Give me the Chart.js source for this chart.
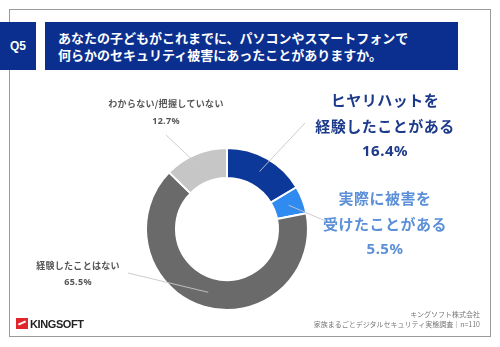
<!DOCTYPE html>
<html lang="ja">
<head>
<meta charset="utf-8">
<script src="https://cdn.jsdelivr.net/npm/chart.js@4"></script>
<style>
    html, body { margin: 0; padding: 0; background: #fff; }
    body { width: 500px; height: 347px; position: relative; overflow: hidden; font-family: "Noto Sans CJK JP", "Noto Sans", sans-serif; }
    .card { position: absolute; left: 9px; top: 9px; width: 482px; height: 328px; border: 1px solid #9a9a9a; box-sizing: border-box; }
    #chart { position: absolute; left: 0; top: 0; }
    .q { position: absolute; left: 0; top: 22px; width: 36px; height: 48px; background: #0b2f8e; color: #fff; font: bold 12px "Liberation Sans", sans-serif; line-height: 48px; text-align: center; }
    .title { position: absolute; left: 45px; top: 22px; width: 413px; height: 48px; background: #0b2f8e; color: #fff; font-weight: bold; font-size: 13px; line-height: 17px; padding: 7px 0 0 13px; box-sizing: border-box; }
    .logo { position: absolute; left: 16px; top: 317px; height: 13px; display: flex; align-items: center; }
    .logo .mark { width: 12px; height: 11px; background: #e0262b; margin-right: 2px; position: relative; }
    .logo .mark::after { content: ''; position: absolute; left: 2px; top: 4px; width: 8px; height: 2px; background: #fff; transform: rotate(-25deg); }
    .logo span { font: bold 11px "Liberation Sans", sans-serif; color: #222; letter-spacing: -0.4px; }
    .footer { position: absolute; right: 20px; top: 309px; text-align: right; font-size: 7px; line-height: 10px; color: #777; }
</style>
</head>
<body>
<div class="card"></div>
<canvas id="chart" width="500" height="347"></canvas>
<div class="q">Q5</div>
<div class="title">あなたの子どもがこれまでに、パソコンやスマートフォンで<br>何らかのセキュリティ被害にあったことがありますか。</div>
<div class="logo"><div class="mark"></div><span>KINGSOFT</span></div>
<div class="footer">キングソフト株式会社<br>家族まるごとデジタルセキュリティ実態調査｜n=110</div>
<script>
const categories = ['ヒヤリハットを\n経験したことがある', '実際に被害を\n受けたことがある', '経験したことはない', 'わからない/把握していない'];
const values = [16.4, 5.5, 65.5, 12.7];
const colors = ['#0c389a', '#2f8bef', '#6a6a6a', '#c6c6c6'];

// label placement (layout only)
const labelStyles = [
    { x: 385, y: 100, gap: 26, size: 15, color: '#1c3a8a', lineTo: [305, 123] },
    { x: 385, y: 198, gap: 26, size: 15, color: '#5b8fd8', lineTo: [335, 225] },
    { x: 78, y: 266, gap: 16, size: 9, color: '#555', lineTo: [128, 273] },
    { x: 166, y: 104, gap: 17, size: 9, color: '#555', lineTo: [166, 135] }
];

const leaderLabels = {
    id: 'leaderLabels',
    afterDraw(chart) {
        const ctx = chart.ctx;
        const arcs = chart.getDatasetMeta(0).data;
        ctx.save();
        arcs.forEach((arc, i) => {
            const p = arc.getProps(['x', 'y', 'startAngle', 'endAngle', 'innerRadius', 'outerRadius'], true);
            const mid = (p.startAngle + p.endAngle) / 2;
            const r = (p.innerRadius + p.outerRadius) / 2;
            const s = labelStyles[i];
            ctx.strokeStyle = 'rgba(200,200,200,0.9)';
            ctx.lineWidth = 1;
            ctx.beginPath();
            ctx.moveTo(p.x + Math.cos(mid) * r, p.y + Math.sin(mid) * r);
            ctx.lineTo(s.lineTo[0], s.lineTo[1]);
            ctx.stroke();

            const lines = categories[i].split('\n').concat([values[i].toFixed(1) + '%']);
            ctx.fillStyle = s.color;
            ctx.textAlign = 'center';
            ctx.textBaseline = 'middle';
            lines.forEach((t, k) => {
                const isPct = k === lines.length - 1;
                ctx.font = 'bold ' + s.size + 'px ' + (isPct ? '"Noto Sans", sans-serif' : '"Noto Sans CJK JP", sans-serif');
                if ('letterSpacing' in ctx) ctx.letterSpacing = s.size > 10 ? '0.5px' : '0.3px';
                ctx.fillText(t, s.x, s.y + k * s.gap);
            });
        });
        ctx.restore();
    }
};

new Chart(document.getElementById('chart'), {
    type: 'doughnut',
    data: {
        labels: categories,
        datasets: [{
            data: values,
            backgroundColor: colors,
            borderColor: '#ffffff',
            borderWidth: 2
        }]
    },
    options: {
        responsive: false,
        animation: false,
        cutout: '63%',
        layout: { padding: { left: 145, right: 191, top: 147, bottom: 36 } },
        plugins: { legend: { display: false }, tooltip: { enabled: false } }
    },
    plugins: [leaderLabels]
});
</script>
</body>
</html>
